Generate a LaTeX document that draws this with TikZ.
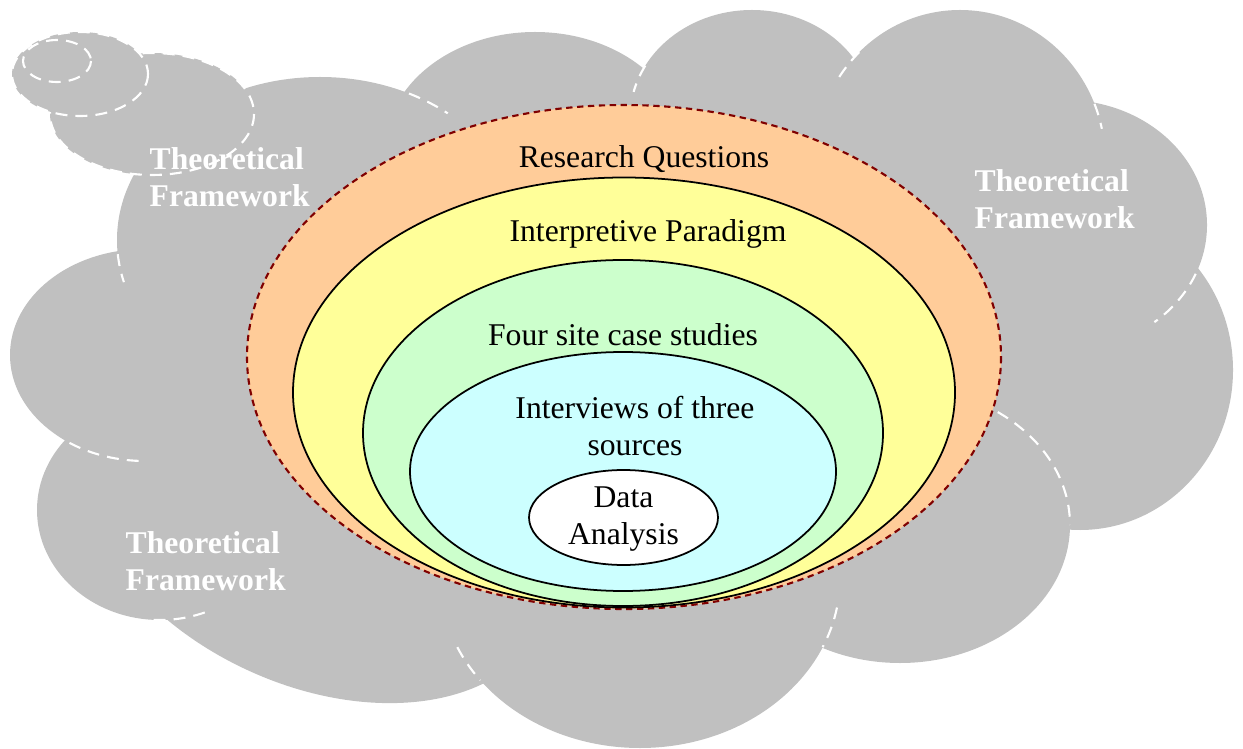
\documentclass[tikz,border=0pt]{standalone}
\usepackage{fontspec}
\setmainfont{Liberation Serif}
\definecolor{cloudgray}{RGB}{192,192,192}
\definecolor{rqorange}{RGB}{255,204,153}
\definecolor{ipyellow}{RGB}{255,255,153}
\definecolor{csgreen}{RGB}{204,255,204}
\definecolor{ivcyan}{RGB}{204,255,255}
\definecolor{rqline}{RGB}{128,0,0}
\begin{document}
\begin{tikzpicture}[x=0.01cm, y=-0.01cm,
  lobe/.style={fill=cloudgray},
  seam/.style={draw=white, line width=0.6pt, dash pattern=on 3.4pt off 2.3pt},
  bubble/.style={fill=cloudgray, draw=white, line width=0.6pt, dash pattern=on 3.4pt off 2.3pt},
  ring/.style={draw=black, line width=0.5pt},
  lbl/.style={font=\fontsize{9}{10.5}\selectfont, inner sep=0pt, align=center},
  tf/.style={font=\fontsize{9}{10.7}\selectfont\bfseries, text=white, inner sep=0pt, align=left, anchor=west}]
\useasboundingbox (0,0) rectangle (1243,749);
\fill[lobe] (320,240) -- (535,150) -- (752,118) -- (960,160) -- (1065,225) -- (1080,370) -- (900,525) -- (640,578) -- (316,520) -- (160,510) -- (145,355) -- cycle;
\fill[lobe] (320,240) ellipse [x radius=203, y radius=163];
\fill[lobe] (535,150) ellipse [x radius=150, y radius=118];
\fill[lobe] (752,118) ellipse [x radius=122, y radius=108];
\fill[lobe] (960,160) ellipse [x radius=145, y radius=150];
\fill[lobe] (1065,225) ellipse [x radius=142, y radius=125];
\fill[lobe] (1080,370) ellipse [x radius=153, y radius=160];
\fill[lobe] (900,525) ellipse [x radius=170, y radius=138];
\fill[lobe] (640,578) ellipse [x radius=200, y radius=170];
\fill[lobe, rotate around={-25:(316,520)}] (316,520) ellipse [x radius=250, y radius=165];
\fill[lobe] (160,510) ellipse [x radius=123, y radius=110];
\fill[lobe] (145,355) ellipse [x radius=135, y radius=106];
\draw[seam] (320,240) ++(-64:203 and 163) arc[start angle=-64, end angle=-51, x radius=203, y radius=163];
\draw[seam] (752,118) ++(209:122 and 108) arc[start angle=209, end angle=194, x radius=122, y radius=108];
\draw[seam] (960,160) ++(226:145 and 150) arc[start angle=226, end angle=211, x radius=145, y radius=150];
\draw[seam] (960,160) ++(-22:145 and 150) arc[start angle=-22, end angle=-12, x radius=145, y radius=150];
\draw[seam] (1065,225) ++(23:142 and 125) arc[start angle=23, end angle=51, x radius=142, y radius=125];
\draw[seam] (900,525) ++(-62:170 and 138) arc[start angle=-62, end angle=0, x radius=170, y radius=138];
\draw[seam] (640,578) ++(10:200 and 170) arc[start angle=10, end angle=24, x radius=200, y radius=170];
\draw[seam] (640,578) ++(156:200 and 170) arc[start angle=156, end angle=143, x radius=200, y radius=170];
\draw[seam] (160,510) ++(93:123 and 110) arc[start angle=93, end angle=66, x radius=123, y radius=110];
\draw[seam] (145,355) ++(124:135 and 106) arc[start angle=124, end angle=90, x radius=135, y radius=106];
\draw[seam] (320,240) ++(175:203 and 163) arc[start angle=175, end angle=165, x radius=203, y radius=163];
\draw[bubble] (152,114) ellipse [x radius=102, y radius=61];
\draw[bubble] (80,74) ellipse [x radius=68, y radius=42];
\draw[bubble] (57,61) ellipse [x radius=34, y radius=21];
\draw[fill=rqorange, draw=rqline, line width=0.6pt, dash pattern=on 1.8pt off 1.3pt] (624,357) ellipse [x radius=377, y radius=252];
\draw[ring, fill=ipyellow] (624,392.5) ellipse [x radius=331, y radius=215];
\draw[ring, fill=csgreen] (623,433) ellipse [x radius=260, y radius=173];
\draw[ring, fill=ivcyan] (623,471.5) ellipse [x radius=213, y radius=119.5];
\draw[ring, fill=white] (623.5,517.5) ellipse [x radius=94.5, y radius=47.5];
\node[lbl, anchor=base] (rq) at (644,168) {Research Questions};
\node[lbl, anchor=base] (ip) at (648,242) {Interpretive Paradigm};
\node[lbl, anchor=base] (cases) at (623,346) {Four site case studies};
\node[lbl] (interviews) at (635,426) {Interviews of three\\sources};
\node[lbl] (analysis) at (623.5,519) {Data\\Analysis};
\node[tf] (tfleft) at (149,177) {Theoretical\\Framework};
\node[tf] (tfright) at (974,199) {Theoretical\\Framework};
\node[tf] (tfbottom) at (125,561) {Theoretical\\Framework};
\end{tikzpicture}
\end{document}
